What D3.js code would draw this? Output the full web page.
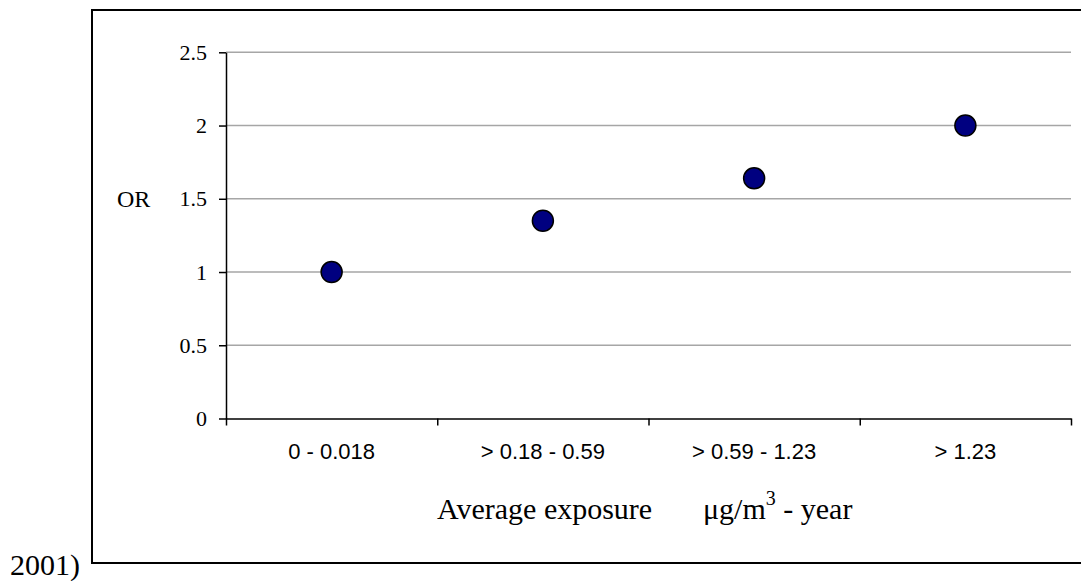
<!DOCTYPE html>
<html>
<head>
<meta charset="utf-8">
<title>OR by average exposure</title>
<script src="https://cdn.jsdelivr.net/npm/d3@7"></script>
<style>
    body { margin: 0; background: #fff; }
    svg { display: block; }
</style>
</head>
<body>
<svg id="chart" width="1081" height="581"></svg>
<script>
const categories = ["0 - 0.018", "> 0.18 - 0.59", "> 0.59 - 1.23", "> 1.23"];
const orValues = [1.0, 1.35, 1.64, 2.0];
const yTicks = [0, 0.5, 1, 1.5, 2, 2.5];

const serif = "'Liberation Serif', 'Times New Roman', serif";
const sans = "'Liberation Sans', Arial, sans-serif";

const svg = d3.select("#chart");

const plotLeft = 226, plotRight = 1071, plotTop = 52.3, plotBottom = 418.5;

const y = d3.scaleLinear().domain([0, 2.5]).range([plotBottom, plotTop]);
const xBand = d3.scaleBand().domain(categories).range([plotLeft, plotRight]).padding(0);
const xEdge = d3.scaleLinear().domain([0, categories.length]).range([plotLeft, plotRight]);

// outer frame
svg.append("rect")
    .attr("x", 92).attr("y", 10)
    .attr("width", 1010).attr("height", 553)
    .attr("fill", "none")
    .attr("stroke", "#000")
    .attr("stroke-width", 2);

// gridlines
svg.append("g")
    .selectAll("line")
    .data(yTicks.filter(d => d > 0))
    .enter()
    .append("line")
    .attr("x1", plotLeft).attr("x2", plotRight)
    .attr("y1", d => y(d)).attr("y2", d => y(d))
    .attr("stroke", "#a6a6a6")
    .attr("stroke-width", 1.5);

// y axis
const yAxis = svg.append("g")
    .attr("transform", `translate(${plotLeft},0)`)
    .call(d3.axisLeft(y).tickValues(yTicks).tickSizeInner(7).tickSizeOuter(0).tickPadding(12).tickFormat(d3.format("")));
yAxis.selectAll("text").attr("font-family", serif).attr("font-size", 22).attr("fill", "#000");
yAxis.selectAll("line, path").attr("stroke", "#000").attr("stroke-width", 1.5);

// x axis: ticks on band edges
const xAxis = svg.append("g")
    .attr("transform", `translate(0,${plotBottom})`)
    .call(d3.axisBottom(xEdge).tickValues(d3.range(categories.length + 1)).tickSizeInner(7).tickSizeOuter(0).tickFormat(""));
xAxis.selectAll("line, path").attr("stroke", "#000").attr("stroke-width", 1.5);

// x labels centred in bands
const xLabels = svg.append("g")
    .attr("transform", `translate(0,${plotBottom})`)
    .call(d3.axisBottom(xBand).tickSize(0).tickPadding(25));
xLabels.select(".domain").remove();
xLabels.selectAll("text").attr("font-family", sans).attr("font-size", 22).attr("fill", "#000");

// points
svg.append("g")
    .selectAll("circle")
    .data(orValues)
    .enter()
    .append("circle")
    .attr("cx", (d, i) => xBand(categories[i]) + xBand.bandwidth() / 2)
    .attr("cy", d => y(d))
    .attr("r", 10.5)
    .attr("fill", "#000080")
    .attr("stroke", "#000")
    .attr("stroke-width", 1.5);

// titles
svg.append("text")
    .attr("x", 117).attr("y", 207)
    .attr("font-family", serif).attr("font-size", 24)
    .text("OR");

svg.append("text")
    .attr("x", 437).attr("y", 519)
    .attr("font-family", serif).attr("font-size", 30)
    .text("Average exposure");

const unit = svg.append("text")
    .attr("x", 703).attr("y", 519)
    .attr("font-family", serif).attr("font-size", 30);
unit.append("tspan").text("μg/m");
unit.append("tspan").attr("dy", -14).attr("font-size", 20).text("3");
unit.append("tspan").attr("dy", 14).text(" - year");

svg.append("text")
    .attr("x", 10).attr("y", 575)
    .attr("font-family", serif).attr("font-size", 30)
    .text("2001)");
</script>
</body>
</html>
